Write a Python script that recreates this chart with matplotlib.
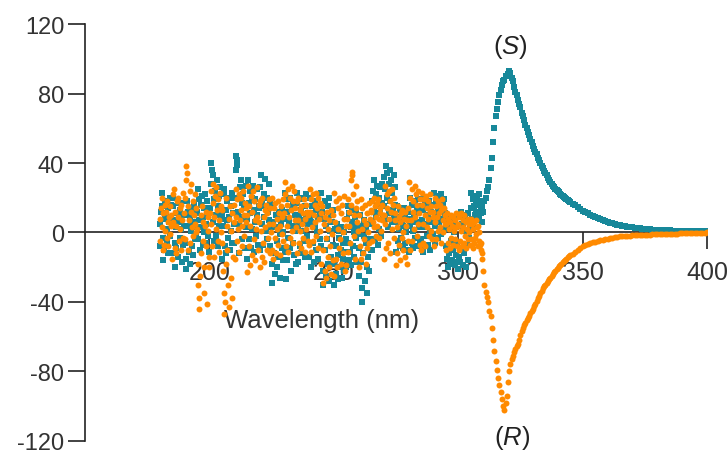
"""CD spectra of the (S) and (R) enantiomers"""
import numpy as np
import matplotlib
matplotlib.use('Agg')
import matplotlib.pyplot as plt

# ── data ──
# noisy part: 180.00 .. 309.75 nm, 0.25 nm step, one row = 5 nm
noise_start = 180.0
noise_step = 0.25
s_noise = [
    5, -8, 12, 23, 15, -3, -16, -10, 8, 18, 11, -5, 2, 14, -12, 6, 20, -2, 9, 16,
    -12, 15, 20, 7, -20, -6, 3, -9, 11, 17, -14, 6, 13, -3, 17, 2, -17, 10, -7, 4,
    -6, 10, -21, -15, 18, 12, 4, -11, 9, -18, 1, 14, -8, 6, -13, 16, 3, -4, 11, -1,
    12, -4, 25, 7, 19, -10, 16, 3, 21, -7, 9, 14, 0, 22, 5, -6, 18, 10, -2, 13,
    -11, 14, 28, 40, 36, 33, 6, -5, 19, 24, -2, 10, 30, 15, -8, 21, 4, 26, 12, 8,
    10, -15, 4, 22, 25, -8, 13, -12, 7, 18, -3, 20, 9, -10, 15, 1, 23, -6, 11, 5,
    -6, 20, 36, 44, 42, 39, 12, -12, 5, 26, 9, 30, 17, -4, 22, 8, 14, -9, 27, 3,
    -15, 8, 30, 17, -4, 24, 11, -9, 20, 2, 27, 13, -11, 6, 19, -2, 25, 10, -7, 15,
    14, -10, 26, 33, 18, 5, -7, 22, 9, 15, 31, 1, 20, -4, 12, 28, 7, -8, 17, 3,
    -29, -18, 6, 15, -12, -24, 3, 10, -5, -20, 8, -14, 12, -26, -1, 5, -9, 13, -16, 0,
    8, 23, -11, -27, -16, 12, 19, -3, 6, -9, 20, -22, 4, 14, -6, 17, -13, 1, 10, -18,
    17, 23, -17, 4, 10, -8, 20, 13, -12, 1, 19, 7, -5, 15, -14, 9, 22, -2, 11, 5,
    -14, 9, 20, -20, 6, 15, -6, 11, -17, 3, 18, -10, 13, 0, -15, 8, 16, -4, 10, -8,
    23, 12, -30, -22, 8, 18, -10, -25, 4, -4, 15, -18, 20, -28, 1, 10, -14, 6, -7, 13,
    -18, -30, 2, -8, -24, 5, -13, -27, -3, 1, -20, -10, 3, -26, -6, -15, 0, -22, -11, -4,
    -20, 8, 15, -6, -16, 11, -11, 3, -19, 6, 13, -8, 0, -14, 9, -3, 12, -17, 4, -1,
    -9, -25, 10, -17, 4, -32, -40, -12, 7, -2, -28, -6, 2, -20, -35, -14, 5, -22, -4, -10,
    5, 18, -10, 24, 30, 12, -4, 22, 9, 27, 15, -7, 20, 2, 26, 11, -2, 17, 28, 8,
    15, 32, 8, 25, 38, 34, 20, 3, 28, 11, 36, 18, 30, 6, 23, 13, 33, 9, 26, 16,
    -11, 6, 15, -5, 9, 2, -8, 13, -3, 7, 11, -9, 4, 14, -6, 10, 0, -10, 8, 12,
    12, -11, 4, 20, 8, -6, 16, 1, -9, 10, 18, -3, 6, 14, -8, 11, 19, 3, -5, 15,
    -4, 19, 7, -11, 13, 3, -8, 17, 5, -2, 15, 10, -7, 18, 1, -10, 12, 6, 16, -1,
    16, 23, 4, -6, 18, 9, 21, -3, 12, 6, 20, 14, -1, 22, 8, 17, 2, 19, 11, 7,
    -8, 10, -15, -20, 2, -12, 7, -18, -5, 4, -16, 8, -10, 0, -19, 6, -13, 3, -6, -17,
    -21, -14, 9, -17, 12, -9, 5, -19, 3, 8, -12, 10, -20, 1, -7, 11, -16, 6, -3, 2,
    14, 23, 8, 19, 5, 15, 21, 10, 17, 12, 20, 7, 16, 22, 9, 18, 11, 13, 6, 15,
]
r_noise = [
    8, -5, 14, 20, 3, -10, 11, -7, 16, 1, 12, -3, 18, 6, -8, 9, 15, -1, 4, 10,
    -15, 6, 22, 25, -9, 12, 4, -12, 18, 9, 20, -5, 14, 2, -10, 16, 7, 23, -3, 11,
    -4, 20, 30, 38, 34, 15, -10, 7, 24, -6, 12, 28, 3, 18, -2, 10, 22, 5, 14, 0,
    2, -18, -30, -44, -38, -25, -12, 10, 15, -5, 6, -35, -20, 4, 12, -8, -41, 1, 9, -14,
    -20, 11, 24, 5, -8, 28, 17, -14, 9, 21, 2, 26, 13, -5, 19, 7, -11, 23, 15, 0,
    -6, 13, -22, -35, -47, -40, -18, 20, 4, -10, -30, 8, -43, 15, -26, 1, -38, 11, -14, 6,
    16, -15, 25, 9, -5, 19, 2, 22, -11, 7, 13, 20, -8, 4, 24, 10, -2, 17, 6, 14,
    -23, 10, 27, -8, 15, -19, 4, 21, -13, 12, 24, -4, 18, 7, -16, 2, 26, 9, -10, 16,
    6, -20, 18, 1, -14, 20, -6, 9, -17, 13, 3, 16, -10, 11, -3, 19, 5, -12, 14, 0,
    -10, 20, 5, -15, 14, -3, 17, -12, 8, 2, 18, -7, 11, 4, -13, 15, -1, 9, 19, -5,
    11, 29, 22, -8, 16, 4, -11, 25, 9, -3, 20, 13, 27, 1, 18, -6, 24, 7, 14, 3,
    18, -12, 7, 20, -6, 13, 1, -9, 15, 5, 11, -3, 19, 8, -11, 16, 2, 12, -5, 10,
    -7, 25, 12, -11, 19, 3, 22, -5, 10, 16, 6, 23, -2, 14, 20, -9, 8, 17, 1, 11,
    -18, 15, -29, -10, 5, -22, 9, -26, -3, 12, -14, 2, -20, 7, -8, 13, -24, -1, 10, -16,
    23, -25, 6, -15, 18, -20, 2, 14, -9, 20, -4, 11, -18, 16, 0, -12, 21, 8, -22, 4,
    -19, 8, 19, -11, 4, 12, -6, 16, 30, 35, 33, 22, -2, 10, -15, 14, 27, 6, 18, 1,
    -20, 10, -8, 19, -15, 2, 14, -12, 7, -4, 16, -18, 5, 11, -9, 0, 17, -6, 8, 13,
    12, -5, 18, 6, 20, 3, 15, -2, 9, 17, 4, 19, 8, -3, 14, 11, 1, 16, 7, 10,
    -15, 10, 27, 5, -9, 22, 14, -6, 24, 8, 18, -12, 12, 25, 2, 16, -3, 20, 7, 11,
    -19, 3, -12, 15, -7, 9, -16, 6, 11, -3, 13, -10, 0, 8, -14, 12, 4, -18, 7, -5,
    14, 29, -10, 20, 7, 25, -5, 12, 18, 2, 27, 9, 22, -2, 16, 5, 24, 11, -7, 19,
    -10, 16, 23, 5, -6, 19, 10, -8, 21, 3, 14, 8, 18, -2, 12, 22, 1, 15, -4, 9,
    12, -8, 20, 6, 15, -4, 9, 18, 1, 11, 16, 3, -6, 13, 19, 7, 0, 14, 10, 5,
    -10, 5, 11, -6, 8, 2, -9, 6, 10, -3, 4, 9, -7, 1, 7, -4, 11, 3, -8, 5,
    4, -10, 9, -5, 11, 1, -8, 7, 3, -6, 10, -2, 6, -9, 2, 8, -4, 5, 0, -7,
    8, -4, 5, -9, 2, -6, 6, -3, 7, -1, 3, -8, 4, -5, 0, -7, -10, -6, -12, -15,
]

# band: 310.0 .. 345.0 nm, 0.5 nm step
band_start = 310.0
band_step = 0.5
s_band = [
    12, 18, 20, 24, 26, 30, 37, 43, 52, 60,
    67, 71, 75, 79, 82, 85, 87, 88, 90, 90,
    91, 93, 92, 89, 87, 84, 81, 79, 76, 74,
    72, 69, 67, 65, 62, 60, 58, 56, 54, 52,
    50, 48, 46.5, 45, 43, 41.5, 40, 38.5, 37, 35.5,
    34, 33, 31.5, 30.5, 29, 28, 27, 26.1, 25.3, 24.5,
    23.8, 23.1, 22.4, 21.7, 21, 20.4, 19.8, 19.2, 18.7, 18.1,
    17.6,
]
r_band = [
    -22, -30, -34, -37, -40, -45, -48, -55, -62, -68,
    -74, -79, -84, -88, -92, -96, -100, -102, -98, -94,
    -86, -80, -76, -73, -71, -69, -67, -65.5, -64, -62,
    -59, -57, -55, -53.5, -52, -50.5, -49, -48, -46.5, -45,
    -44, -42.5, -41, -39.5, -38, -36.5, -35, -33.5, -32, -31,
    -30, -29, -28, -27, -26, -25, -24, -23, -22, -21,
    -20.3, -19.5, -18.7, -18, -17.2, -16.5, -15.8, -15, -14.4, -13.7,
    -13,
]

# tail: 346 .. 400 nm, 1 nm step
tail_start = 346.0
tail_step = 1.0
s_tail = [
    16.6, 15.6, 14.6, 13.5, 12.6, 11.8, 11, 10.2, 9.5, 8.8,
    8.1, 7.5, 7, 6.5, 6, 5.6, 5.2, 4.8, 4.5, 4.2,
    3.9, 3.6, 3.4, 3.2, 3.0, 2.8, 2.6, 2.4, 2.2, 2.0,
    1.9, 1.8, 1.7, 1.6, 1.5, 1.4, 1.3, 1.3, 1.2, 1.2,
    1.1, 1.1, 1.0, 1.0, 1.0, 0.9, 0.9, 0.9, 0.8, 0.8,
    0.8, 0.7, 0.7, 0.6, 0.6,
]
r_tail = [
    -12.2, -11.2, -10.2, -9.0, -8.0, -7.4, -6.8, -6.2, -5.7, -5.2,
    -4.8, -4.4, -4.1, -3.8, -3.5, -3.2, -3.0, -2.7, -2.5, -2.3,
    -2.2, -2.0, -1.9, -1.8, -1.7, -1.6, -1.5, -1.4, -1.4, -1.3,
    -1.2, -1.2, -1.1, -1.0, -1.0, -0.9, -0.9, -0.8, -0.8, -0.7,
    -0.7, -0.6, -0.6, -0.5, -0.5, -0.5, -0.4, -0.4, -0.3, -0.3,
    -0.2, -0.2, -0.1, -0.1, 0.0,
]

x_ticks = [200, 250, 300, 350, 400]
y_ticks = [-120, -80, -40, 0, 40, 80, 120]


def join(noise, band, tail):
    wl = np.concatenate([
        noise_start + noise_step * np.arange(len(noise)),
        band_start + band_step * np.arange(len(band)),
        tail_start + tail_step * np.arange(len(tail)),
    ])
    return wl, np.array(noise + band + tail, dtype=float)


wl_s, cd_s = join(s_noise, s_band, s_tail)
wl_r, cd_r = join(r_noise, r_band, r_tail)

# ── plot ──
plt.rcParams['font.family'] = ['Liberation Sans', 'DejaVu Sans']
plt.rcParams['mathtext.fontset'] = 'custom'
plt.rcParams['mathtext.rm'] = 'Liberation Sans'
plt.rcParams['mathtext.it'] = 'Liberation Sans:italic'
plt.rcParams['axes.unicode_minus'] = False

TEAL = '#17889a'
ORANGE = '#ff8a00'
INK = '#333333'

fig = plt.figure(figsize=(7.28, 4.56), dpi=100)
ax = fig.add_axes([0.1168, 0.031, 0.8544, 0.914])

ax.plot(wl_s, cd_s, ls='none', marker='s', ms=3.9, mew=0, color=TEAL, zorder=3)
ax.plot(wl_r, cd_r, ls='none', marker='o', ms=4.3, mew=0, color=ORANGE, zorder=3)

ax.set_xlim(150, 400)
ax.set_ylim(-120, 120)
ax.set_xticks(x_ticks)
ax.set_yticks(y_ticks)

for side in ('top', 'right'):
    ax.spines[side].set_visible(False)
ax.spines['bottom'].set_position(('data', 0))
for side in ('left', 'bottom'):
    ax.spines[side].set_linewidth(1.2)
    ax.spines[side].set_color('#222222')

ax.tick_params(axis='both', direction='out', length=12, width=1.2,
               color='#222222', labelcolor=INK)
ax.tick_params(axis='x', pad=8, labelsize=18)
ax.tick_params(axis='y', pad=3, labelsize=17)

ax.set_xlabel('Wavelength (nm)', fontsize=18.5, color=INK)
ax.xaxis.set_label_coords(0.381, 0.29)
ax.xaxis.label.set_va('center')

ax.text(320.8, 107.5, r'($\mathit{S}$)', fontsize=18.5, color='#222222',
        ha='center', va='center')
ax.text(321.6, -118, r'($\mathit{R}$)', fontsize=18.5, color='#222222',
        ha='center', va='center', clip_on=False)

fig.savefig('out.png', dpi=100)
